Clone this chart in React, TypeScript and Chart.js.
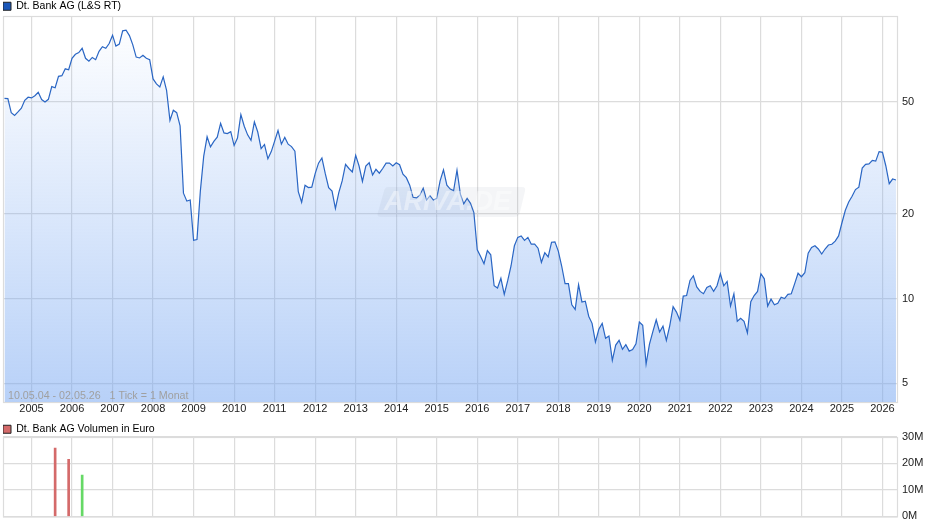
// App.tsx
import React, { useEffect, useRef } from 'react';
import Chart from 'chart.js/auto';

const FONT = '"Liberation Sans", Arial, sans-serif';

// monthly closes, May 2004 to May 2026
const closes = [
  51.5, 51.4, 45.8, 44.8, 46.1, 47.5, 50.7, 52.0,
  51.7, 52.6, 54.1, 51.0, 50.0, 51.1, 56.7, 56.2, 61.7, 62.0, 65.6, 65.1,
  71.5, 73.9, 74.9, 77.6, 71.5, 69.8, 72.0, 70.7, 75.7, 78.6, 77.6, 80.7,
  86.4, 79.0, 80.3, 89.5, 90.0, 86.1, 79.8, 72.2, 71.7, 73.3, 71.5, 70.7,
  60.4, 58.0, 56.6, 61.4, 55.0, 43.0, 46.7, 45.8, 41.1, 23.7, 22.2, 22.4,
  16.1, 16.2, 24.1, 32.1, 37.6, 34.6, 36.2, 37.5, 42.0, 38.8, 38.6, 39.2,
  35.0, 37.2, 45.1, 41.0, 38.2, 36.5, 42.5, 39.1, 34.1, 35.3, 31.4, 33.3,
  36.3, 39.6, 35.4, 37.4, 35.4, 34.7, 33.4, 24.0, 22.0, 25.3, 24.8, 24.9,
  27.8, 30.3, 31.6, 27.8, 24.8, 24.1, 20.9, 23.8, 26.2, 30.0, 29.0, 28.2,
  32.3, 29.6, 26.1, 29.6, 30.4, 27.5, 28.8, 27.9, 29.0, 30.3, 30.3, 29.6,
  30.4, 29.9, 27.7, 26.9, 25.3, 22.9, 22.8, 23.3, 24.7, 22.4, 23.2, 22.4,
  22.7, 26.2, 28.7, 25.3, 24.5, 24.2, 28.6, 23.5, 21.7, 22.7, 21.8, 20.2,
  14.9, 14.1, 13.3, 14.8, 14.3, 11.1, 10.9, 11.8, 10.35, 11.55, 13.05, 15.4,
  16.5, 16.7, 16.1, 16.5, 15.6, 15.6, 15.1, 13.45, 14.55, 14.05, 15.85, 15.9,
  14.75, 13.05, 11.3, 11.3, 9.5, 9.15, 11.2, 9.72, 9.78, 8.65, 8.16, 7.0,
  7.77, 8.16, 7.22, 7.36, 6.03, 6.83, 7.1, 6.6, 6.85, 6.5, 6.58, 6.9,
  8.25, 8.03, 5.85, 6.88, 7.62, 8.4, 7.6, 7.97, 7.1, 8.0, 9.35, 8.95,
  8.37, 10.2, 10.25, 11.6, 12.05, 11.0, 10.6, 10.4, 10.95, 11.1, 10.6, 11.1,
  12.25, 11.1, 11.5, 9.4, 10.4, 8.3, 8.5, 8.3, 7.55, 9.75, 10.25, 10.6,
  12.25, 11.75, 9.4, 9.95, 9.5, 9.62, 10.1, 10.0, 10.35, 10.4, 11.3, 12.3,
  11.95, 12.35, 14.5, 15.2, 15.4, 15.0, 14.4, 15.0, 15.5, 15.6, 16.0, 16.7,
  18.6, 20.6, 22.05, 23.1, 24.4, 24.9, 29.1, 30.0, 30.1, 31.0, 30.8, 33.3,
  33.1, 29.6, 25.6, 26.6, 26.4,
];
const years = [2005, 2006, 2007, 2008, 2009, 2010, 2011, 2012, 2013, 2014, 2015, 2016, 2017, 2018, 2019, 2020, 2021, 2022, 2023, 2024, 2025, 2026];
const priceTicks = [5, 10, 20, 50];
const volumeTicks = [0, 10, 20, 30];

// months since May 2004 that have a volume bar
const volumeMonths = [15, 19, 23];
const volumeValues = [25.8, 21.6, 15.6];
const volumeColors = ['#d46a6a', '#d46a6a', '#66d966'];

const GRID = '#dcdcdc';
const GRID_WIDTH = 1.2;
const X_MIN = -0.44;
const X_MAX = 264.3;

const monthOf = (year: number) => (year - 2004) * 12 - 4;

const xAxis = (showLabels: boolean, height: number) => ({
  type: 'linear' as const,
  min: X_MIN,
  max: X_MAX,
  offset: false,
  grid: { color: GRID, drawTicks: false, offset: false, lineWidth: GRID_WIDTH },
  border: { display: false },
  afterBuildTicks: (scale: any) => {
    scale.ticks = years.map((y) => ({ value: monthOf(y) }));
  },
  afterFit: (scale: any) => {
    scale.height = height;
  },
  ticks: {
    autoSkip: false,
    maxRotation: 0,
    padding: 0,
    display: showLabels,
    color: '#222',
    font: { family: FONT, size: 11 },
    callback: (v: any) => String(2004 + (Number(v) + 4) / 12),
  },
});

const legendOptions = (text: string, fill: string, maxHeight: number) => ({
  display: true,
  position: 'top' as const,
  align: 'start' as const,
  maxHeight,
  labels: {
    boxWidth: 8,
    boxHeight: 8,
    padding: 0,
    color: '#222',
    font: { family: FONT, size: 10.5 },
    generateLabels: () => [{ text, fillStyle: fill, strokeStyle: '#222', lineWidth: 1, hidden: false, datasetIndex: 0 }],
  },
  onClick: () => {},
});

// frame round the plot
const framePlugin = {
  id: 'frame',
  beforeDatasetsDraw(chart: any) {
    const { ctx, chartArea: a } = chart;
    ctx.save();
    ctx.strokeStyle = GRID;
    ctx.lineWidth = GRID_WIDTH;
    ctx.strokeRect(a.left + 0.5, a.top + 0.5, a.right - a.left, a.bottom - a.top);
    ctx.restore();
  },
};

const overlayPlugin = {
  id: 'overlay',
  afterDatasetsDraw(chart: any) {
    const { ctx } = chart;
    ctx.save();
    // watermark
    ctx.fillStyle = 'rgba(120,130,150,0.08)';
    ctx.beginPath();
    ctx.moveTo(388, 187);
    ctx.lineTo(522, 187);
    ctx.quadraticCurveTo(526, 187, 525, 191);
    ctx.lineTo(520, 212);
    ctx.quadraticCurveTo(519, 217, 514, 217);
    ctx.lineTo(381, 217);
    ctx.quadraticCurveTo(376, 217, 378, 212);
    ctx.lineTo(384, 191);
    ctx.quadraticCurveTo(385, 187, 388, 187);
    ctx.closePath();
    ctx.fill();
    ctx.fillStyle = 'rgba(255,255,255,0.4)';
    ctx.font = `italic bold 27px ${FONT}`;
    ctx.textBaseline = 'middle';
    ctx.fillText('ARIVA.DE', 384, 203);
    // date range
    ctx.fillStyle = '#a0a0a0';
    ctx.font = `10.7px ${FONT}`;
    ctx.textBaseline = 'alphabetic';
    ctx.fillText('10.05.04 - 02.05.26   1 Tick = 1 Monat', 8, 399);
    ctx.restore();
  },
};

function PriceChart() {
  const chartRef = useRef<HTMLCanvasElement | null>(null);

  useEffect(() => {
    if (!chartRef.current) return;
    const chart = new Chart(chartRef.current, {
      type: 'line',
      data: {
        datasets: [{
          label: 'Dt. Bank AG (L&S RT)',
          data: closes.map((c, i) => ({ x: i, y: c })),
          borderColor: '#2a66c4',
          borderWidth: 1.2,
          pointRadius: 0,
          tension: 0,
          fill: 'start',
          backgroundColor: (context: any) => {
            const area = context.chart.chartArea;
            if (!area) return 'transparent';
            const g = context.chart.ctx.createLinearGradient(0, area.top, 0, area.bottom);
            g.addColorStop(0, 'rgba(113,163,241,0)');
            g.addColorStop(1, 'rgba(113,163,241,0.5)');
            return g;
          },
        }],
      },
      options: {
        animation: false,
        responsive: false,
        layout: { padding: { left: 3, right: 0, top: 1, bottom: 0 } },
        plugins: {
          legend: legendOptions('Dt. Bank AG (L&S RT)', '#1a56b8', 15),
          tooltip: { enabled: false },
        },
        scales: {
          x: xAxis(true, 18),
          y: {
            type: 'logarithmic',
            position: 'right',
            min: 4.285,
            max: 101.1,
            grid: { color: GRID, drawTicks: false, lineWidth: GRID_WIDTH },
            border: { display: false },
            afterBuildTicks: (scale: any) => {
              scale.ticks = priceTicks.map((v) => ({ value: v }));
            },
            afterFit: (scale: any) => {
              scale.width = 43;
            },
            ticks: {
              autoSkip: false,
              padding: 5,
              color: '#222',
              font: { family: FONT, size: 11 },
              callback: (v: any) => String(v),
            },
          },
        },
      },
      plugins: [framePlugin, overlayPlugin],
    } as any);
    return () => chart.destroy();
  }, []);

  return <canvas ref={chartRef} width={940} height={420} style={{ position: 'absolute', left: 0, top: 0 }} />;
}

function VolumeChart() {
  const chartRef = useRef<HTMLCanvasElement | null>(null);

  useEffect(() => {
    if (!chartRef.current) return;
    const chart = new Chart(chartRef.current, {
      type: 'bar',
      data: {
        datasets: [{
          label: 'Dt. Bank AG Volumen in Euro',
          data: volumeMonths.map((m, i) => ({ x: m, y: volumeValues[i] })),
          backgroundColor: volumeColors,
          barThickness: 2,
        }],
      },
      options: {
        animation: false,
        responsive: false,
        layout: { padding: { left: 3, right: 0, top: 1, bottom: 0 } },
        plugins: {
          legend: legendOptions('Dt. Bank AG Volumen in Euro', '#d46a6a', 13),
          tooltip: { enabled: false },
        },
        scales: {
          x: xAxis(false, 8),
          y: {
            position: 'right',
            min: 0,
            max: 30,
            grid: { color: GRID, drawTicks: false, lineWidth: GRID_WIDTH },
            border: { display: false },
            afterBuildTicks: (scale: any) => {
              scale.ticks = volumeTicks.map((v) => ({ value: v }));
            },
            afterFit: (scale: any) => {
              scale.width = 43;
            },
            ticks: {
              autoSkip: false,
              padding: 5,
              color: '#222',
              font: { family: FONT, size: 11 },
              callback: (v: any) => `${v}M`,
            },
          },
        },
      },
      plugins: [framePlugin],
    } as any);
    return () => chart.destroy();
  }, []);

  return <canvas ref={chartRef} width={940} height={105} style={{ position: 'absolute', left: 0, top: 423 }} />;
}

export default function App() {
  return (
    <div style={{ position: 'absolute', left: 0, top: 0, width: 940, height: 526, background: '#fff', overflow: 'hidden' }}>
      <PriceChart />
      <VolumeChart />
    </div>
  );
}
